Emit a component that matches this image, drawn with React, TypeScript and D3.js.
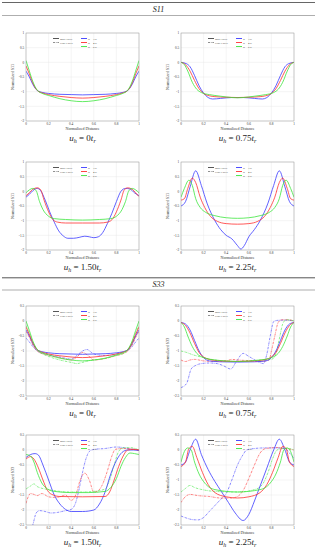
import * as d3 from "d3";

type Pt = [number, number];

const X_TICKS = [0, 0.2, 0.4, 0.6, 0.8, 1];
const S11_Y_TICKS = [1, 0.5, 0, -0.5, -1, -1.5, -2];
const S33_Y_TICKS = [0.5, 0, -0.5, -1, -1.5, -2, -2.5];
const UH_VALUES = ["0", "0.75", "1.50", "2.25"];
const RATIOS = ["3.6", "4.6", "5.6"];

const BLUE = "#3a3aff";
const RED = "#ff3030";
const GREEN = "#3ee63e";

// ---- S11, u_h = 0
const s11u0Blue: Pt[] = [[0,-0.3],[0.03,-0.5],[0.06,-0.75],[0.1,-0.96],[0.15,-1.03],[0.2,-1.06],[0.3,-1.09],[0.4,-1.1],[0.5,-1.11],[0.6,-1.1],[0.7,-1.09],[0.8,-1.06],[0.85,-1.03],[0.9,-0.96],[0.94,-0.75],[0.97,-0.5],[1,-0.3]];
const s11u0Red: Pt[] = [[0,-0.12],[0.03,-0.4],[0.06,-0.7],[0.1,-0.96],[0.15,-1.05],[0.2,-1.1],[0.3,-1.16],[0.4,-1.2],[0.5,-1.22],[0.6,-1.2],[0.7,-1.16],[0.8,-1.1],[0.85,-1.05],[0.9,-0.96],[0.94,-0.7],[0.97,-0.4],[1,-0.12]];
const s11u0Green: Pt[] = [[0,0.06],[0.03,-0.3],[0.06,-0.65],[0.1,-0.95],[0.15,-1.07],[0.2,-1.13],[0.3,-1.24],[0.4,-1.31],[0.5,-1.34],[0.6,-1.31],[0.7,-1.24],[0.8,-1.13],[0.85,-1.07],[0.9,-0.95],[0.94,-0.65],[0.97,-0.3],[1,0.06]];

// ---- S11, u_h = 0.75
const s11u075Blue: Pt[] = [[0,0],[0.05,-0.05],[0.08,-0.15],[0.12,-0.45],[0.16,-0.8],[0.2,-1.05],[0.24,-1.2],[0.28,-1.25],[0.35,-1.23],[0.45,-1.2],[0.55,-1.2],[0.65,-1.23],[0.72,-1.25],[0.76,-1.2],[0.8,-1.05],[0.84,-0.8],[0.88,-0.45],[0.92,-0.15],[0.95,-0.05],[1,0]];
const s11u075Red: Pt[] = [[0,0],[0.04,-0.08],[0.08,-0.3],[0.12,-0.62],[0.16,-0.9],[0.2,-1.06],[0.25,-1.14],[0.3,-1.17],[0.4,-1.19],[0.5,-1.2],[0.6,-1.19],[0.7,-1.17],[0.75,-1.14],[0.8,-1.06],[0.84,-0.9],[0.88,-0.62],[0.92,-0.3],[0.96,-0.08],[1,0]];
const s11u075Green: Pt[] = [[0,0],[0.03,-0.08],[0.06,-0.3],[0.1,-0.68],[0.14,-0.92],[0.18,-1.03],[0.25,-1.1],[0.3,-1.13],[0.4,-1.18],[0.5,-1.21],[0.6,-1.18],[0.7,-1.13],[0.75,-1.1],[0.82,-1.03],[0.86,-0.92],[0.9,-0.68],[0.94,-0.3],[0.97,-0.08],[1,0]];

// ---- S11, u_h = 1.50
const s11u150Blue: Pt[] = [[0,-0.2],[0.03,-0.1],[0.06,0.02],[0.1,0.1],[0.13,0.02],[0.17,-0.3],[0.21,-0.7],[0.25,-1.05],[0.29,-1.35],[0.33,-1.52],[0.37,-1.6],[0.42,-1.6],[0.47,-1.57],[0.52,-1.53],[0.56,-1.55],[0.6,-1.58],[0.64,-1.55],[0.68,-1.4],[0.72,-1.1],[0.76,-0.75],[0.8,-0.35],[0.84,0],[0.88,0.1],[0.92,0.08],[0.96,-0.05],[1,-0.15]];
const s11u150Red: Pt[] = [[0,-0.15],[0.03,-0.05],[0.06,0.07],[0.1,0.12],[0.13,0.05],[0.16,-0.3],[0.2,-0.7],[0.24,-0.97],[0.28,-1.05],[0.35,-1.08],[0.5,-1.08],[0.65,-1.08],[0.72,-1.05],[0.76,-0.97],[0.8,-0.7],[0.84,-0.3],[0.87,0.05],[0.9,0.12],[0.94,0.07],[0.97,-0.05],[1,-0.18]];
const s11u150Green: Pt[] = [[0,-0.05],[0.03,0.05],[0.06,0.1],[0.09,0.02],[0.12,-0.35],[0.15,-0.62],[0.2,-0.85],[0.25,-0.93],[0.35,-0.96],[0.5,-0.98],[0.65,-0.96],[0.75,-0.93],[0.8,-0.85],[0.85,-0.62],[0.88,-0.35],[0.91,0.02],[0.94,0.1],[0.97,0.05],[1,-0.05]];

// ---- S11, u_h = 2.25
const s11u225Blue: Pt[] = [[0,-0.5],[0.04,-0.35],[0.08,0.15],[0.13,0.7],[0.18,0.2],[0.23,-0.4],[0.3,-1.0],[0.35,-1.3],[0.4,-1.5],[0.45,-1.62],[0.5,-1.85],[0.53,-1.97],[0.56,-1.85],[0.6,-1.55],[0.65,-1.3],[0.7,-1.0],[0.77,-0.4],[0.82,0.2],[0.87,0.7],[0.92,0.15],[0.96,-0.35],[1,-0.5]];
const s11u225Red: Pt[] = [[0,-0.3],[0.03,-0.25],[0.06,0.1],[0.1,0.45],[0.13,0.3],[0.17,-0.2],[0.21,-0.55],[0.26,-0.85],[0.32,-1.02],[0.4,-1.1],[0.5,-1.12],[0.6,-1.1],[0.68,-1.02],[0.74,-0.85],[0.79,-0.55],[0.83,-0.2],[0.87,0.3],[0.9,0.45],[0.94,0.1],[0.97,-0.25],[1,-0.3]];
const s11u225Green: Pt[] = [[0,-0.2],[0.03,0.1],[0.07,0.38],[0.1,0.2],[0.13,-0.25],[0.17,-0.55],[0.22,-0.72],[0.3,-0.83],[0.4,-0.9],[0.5,-0.92],[0.6,-0.9],[0.7,-0.83],[0.78,-0.72],[0.83,-0.55],[0.87,-0.25],[0.9,0.2],[0.93,0.38],[0.97,0.1],[1,-0.2]];

// ---- S33, u_h = 0
const s33u0Blue: Pt[] = [[0,-0.3],[0.03,-0.5],[0.06,-0.75],[0.1,-0.96],[0.15,-1.03],[0.2,-1.06],[0.3,-1.09],[0.4,-1.1],[0.5,-1.11],[0.6,-1.1],[0.7,-1.09],[0.8,-1.06],[0.85,-1.03],[0.9,-0.96],[0.94,-0.75],[0.97,-0.5],[1,-0.3]];
const s33u0BlueFirst: Pt[] = [[0,-0.57],[0.03,-0.7],[0.06,-0.85],[0.1,-1.0],[0.15,-1.07],[0.2,-1.12],[0.3,-1.2],[0.4,-1.27],[0.45,-1.15],[0.5,-1.0],[0.54,-0.95],[0.58,-1.05],[0.62,-1.12],[0.7,-1.15],[0.8,-1.1],[0.85,-1.05],[0.9,-0.98],[0.94,-0.85],[0.97,-0.7],[1,-0.57]];
const s33u0Red: Pt[] = [[0,-0.2],[0.03,-0.45],[0.06,-0.72],[0.1,-0.96],[0.15,-1.05],[0.2,-1.1],[0.3,-1.16],[0.4,-1.2],[0.5,-1.22],[0.6,-1.2],[0.7,-1.16],[0.8,-1.1],[0.85,-1.05],[0.9,-0.96],[0.94,-0.72],[0.97,-0.45],[1,-0.2]];
const s33u0RedFirst: Pt[] = [[0,-0.35],[0.03,-0.55],[0.06,-0.8],[0.1,-1.0],[0.15,-1.1],[0.2,-1.15],[0.3,-1.22],[0.4,-1.3],[0.45,-1.2],[0.5,-1.05],[0.55,-1.15],[0.6,-1.3],[0.7,-1.25],[0.8,-1.15],[0.85,-1.1],[0.9,-1.0],[0.94,-0.8],[0.97,-0.55],[1,-0.35]];
const s33u0Green: Pt[] = [[0,0],[0.03,-0.32],[0.06,-0.66],[0.1,-0.95],[0.15,-1.07],[0.2,-1.13],[0.3,-1.24],[0.4,-1.3],[0.5,-1.33],[0.6,-1.3],[0.7,-1.24],[0.8,-1.13],[0.85,-1.07],[0.9,-0.95],[0.94,-0.66],[0.97,-0.32],[1,0]];
const s33u0GreenFirst: Pt[] = [[0,-0.15],[0.03,-0.42],[0.06,-0.72],[0.1,-0.98],[0.15,-1.1],[0.2,-1.18],[0.3,-1.3],[0.4,-1.38],[0.45,-1.42],[0.5,-1.38],[0.55,-1.33],[0.6,-1.3],[0.7,-1.25],[0.8,-1.15],[0.85,-1.1],[0.9,-0.98],[0.94,-0.72],[0.97,-0.42],[1,-0.15]];

// ---- S33, u_h = 0.75
const s33u075Blue: Pt[] = [[0,-0.05],[0.04,-0.1],[0.08,-0.3],[0.12,-0.65],[0.16,-1.0],[0.2,-1.22],[0.25,-1.33],[0.35,-1.36],[0.5,-1.37],[0.65,-1.36],[0.75,-1.33],[0.8,-1.22],[0.84,-1.0],[0.88,-0.65],[0.92,-0.3],[0.96,-0.1],[1,-0.05]];
const s33u075BlueFirst: Pt[] = [[0,-2.22],[0.05,-2.08],[0.09,-1.6],[0.13,-1.48],[0.18,-1.42],[0.25,-1.4],[0.32,-1.42],[0.38,-1.5],[0.44,-1.6],[0.49,-1.35],[0.55,-1.08],[0.6,-1.18],[0.67,-1.33],[0.73,-1.42],[0.76,-1.1],[0.79,-0.5],[0.82,-0.02],[0.85,0.02],[0.92,0.03],[1,0]];
const s33u075Red: Pt[] = [[0,-0.05],[0.04,-0.15],[0.08,-0.4],[0.12,-0.75],[0.16,-1.05],[0.2,-1.2],[0.25,-1.28],[0.35,-1.33],[0.5,-1.35],[0.65,-1.33],[0.75,-1.28],[0.8,-1.2],[0.84,-1.05],[0.88,-0.75],[0.92,-0.4],[0.96,-0.15],[1,-0.05]];
const s33u075RedFirst: Pt[] = [[0,-1.3],[0.04,-1.35],[0.08,-1.3],[0.12,-1.28],[0.2,-1.33],[0.3,-1.35],[0.4,-1.33],[0.45,-1.28],[0.5,-1.3],[0.6,-1.32],[0.7,-1.35],[0.78,-1.3],[0.8,-1.0],[0.83,-0.5],[0.86,-0.05],[0.89,0.04],[0.95,0.04],[1,0]];
const s33u075Green: Pt[] = [[0,-0.05],[0.03,-0.2],[0.06,-0.5],[0.1,-0.85],[0.14,-1.08],[0.2,-1.22],[0.3,-1.3],[0.5,-1.35],[0.7,-1.3],[0.8,-1.22],[0.86,-1.08],[0.9,-0.85],[0.94,-0.5],[0.97,-0.2],[1,-0.05]];
const s33u075GreenFirst: Pt[] = [[0,-1.0],[0.05,-1.05],[0.1,-1.12],[0.2,-1.22],[0.3,-1.3],[0.4,-1.33],[0.5,-1.35],[0.6,-1.33],[0.7,-1.3],[0.8,-1.28],[0.84,-1.1],[0.87,-0.6],[0.9,-0.1],[0.93,0.04],[0.97,0.03],[1,0]];

// ---- S33, u_h = 1.50
const s33u150Blue: Pt[] = [[0,-0.25],[0.04,-0.15],[0.08,-0.12],[0.11,-0.17],[0.15,-0.5],[0.2,-1.0],[0.25,-1.5],[0.3,-1.8],[0.35,-1.98],[0.4,-2.05],[0.5,-2.05],[0.6,-2.0],[0.65,-1.8],[0.7,-1.4],[0.75,-0.8],[0.8,-0.35],[0.85,-0.08],[0.9,0],[0.95,0],[1,-0.02]];
const s33u150BlueFirst: Pt[] = [[0,-2.9],[0.06,-2.5],[0.09,-2.1],[0.12,-2.02],[0.17,-2.05],[0.22,-2.1],[0.28,-2.08],[0.34,-2.03],[0.4,-1.98],[0.44,-1.75],[0.47,-1.3],[0.5,-0.75],[0.53,-0.3],[0.56,-0.05],[0.6,0.02],[0.7,0.05],[0.8,0.1],[0.86,0.08],[0.93,0.03],[1,0]];
const s33u150Red: Pt[] = [[0,-0.3],[0.04,-0.22],[0.07,-0.3],[0.11,-0.6],[0.15,-1.0],[0.19,-1.35],[0.24,-1.5],[0.3,-1.55],[0.5,-1.56],[0.7,-1.55],[0.74,-1.4],[0.78,-1.0],[0.82,-0.55],[0.86,-0.2],[0.9,0],[0.95,0.02],[1,0]];
const s33u150RedFirst: Pt[] = [[0,-1.78],[0.04,-1.45],[0.07,-1.48],[0.1,-1.52],[0.14,-1.45],[0.2,-1.56],[0.25,-1.58],[0.3,-1.56],[0.35,-1.5],[0.4,-1.68],[0.44,-1.5],[0.48,-1.0],[0.52,-0.77],[0.56,-1.0],[0.6,-1.4],[0.63,-1.38],[0.67,-1.2],[0.72,-0.7],[0.76,-0.2],[0.79,0.02],[0.85,0.05],[0.92,0.04],[1,0]];
const s33u150Green: Pt[] = [[0,-0.15],[0.04,-0.2],[0.07,-0.4],[0.1,-0.75],[0.14,-1.1],[0.19,-1.3],[0.25,-1.38],[0.4,-1.42],[0.55,-1.42],[0.7,-1.38],[0.75,-1.25],[0.8,-0.95],[0.84,-0.55],[0.88,-0.25],[0.92,-0.1],[0.96,-0.12],[1,-0.15]];
const s33u150GreenFirst: Pt[] = [[0,-1.3],[0.04,-1.2],[0.07,-1.13],[0.1,-1.22],[0.2,-1.32],[0.3,-1.38],[0.4,-1.4],[0.5,-1.4],[0.6,-1.38],[0.7,-1.3],[0.74,-1.0],[0.78,-0.5],[0.82,-0.05],[0.86,0.07],[0.92,0.08],[1,0]];

// ---- S33, u_h = 2.25
const s33u225Blue: Pt[] = [[0,-0.5],[0.04,-0.4],[0.08,0],[0.13,0.36],[0.18,-0.15],[0.24,-0.65],[0.3,-1.05],[0.36,-1.4],[0.42,-1.75],[0.48,-2.1],[0.55,-2.35],[0.6,-2.15],[0.65,-1.7],[0.7,-1.2],[0.76,-0.6],[0.82,0],[0.87,0.36],[0.92,0],[0.96,-0.4],[1,-0.5]];
const s33u225BlueFirst: Pt[] = [[0,-2.2],[0.05,-2.27],[0.1,-2.32],[0.15,-2.33],[0.2,-2.25],[0.25,-2.05],[0.3,-1.85],[0.35,-1.65],[0.4,-1.45],[0.45,-1.0],[0.5,-0.5],[0.55,-0.15],[0.58,0],[0.65,0.05],[0.75,0.07],[0.85,0.07],[0.92,0.05],[0.96,-0.1],[1,-0.28]];
const s33u225Red: Pt[] = [[0,-0.55],[0.04,-0.4],[0.07,0.05],[0.1,0.12],[0.14,-0.25],[0.19,-0.75],[0.24,-1.15],[0.3,-1.42],[0.4,-1.56],[0.5,-1.6],[0.6,-1.56],[0.7,-1.42],[0.76,-1.15],[0.81,-0.75],[0.86,-0.25],[0.9,0.12],[0.93,0.05],[0.96,-0.4],[1,-0.55]];
const s33u225RedFirst: Pt[] = [[0,-1.75],[0.04,-1.55],[0.08,-1.48],[0.15,-1.52],[0.25,-1.55],[0.35,-1.6],[0.45,-1.6],[0.5,-1.55],[0.55,-1.35],[0.6,-0.95],[0.65,-0.5],[0.7,-0.1],[0.75,0.05],[0.85,0.08],[0.93,0.05],[1,0]];
const s33u225Green: Pt[] = [[0,-0.4],[0.03,-0.05],[0.06,0.07],[0.09,0],[0.12,-0.4],[0.16,-0.8],[0.21,-1.1],[0.3,-1.32],[0.5,-1.4],[0.7,-1.32],[0.79,-1.1],[0.84,-0.8],[0.88,-0.4],[0.91,0],[0.94,0.07],[0.97,-0.05],[1,-0.4]];
const s33u225GreenFirst: Pt[] = [[0,-1.4],[0.04,-1.28],[0.08,-1.18],[0.12,-1.25],[0.2,-1.33],[0.3,-1.38],[0.5,-1.4],[0.65,-1.32],[0.72,-1.15],[0.77,-0.75],[0.81,-0.3],[0.85,0],[0.9,0.05],[0.95,0.05],[1,0]];

type Series = { pts: Pt[]; color: string; first?: boolean };

const COLS = [26, 181];
const PW = 113;
const ROW_TOPS = [33, 162, 306, 435];
const ROW_H = [88, 88, 90, 90];

const SERIF = "'Liberation Serif', 'DejaVu Serif', serif";
const DASH = "2.2,0.8,0.6,0.8";

const panels: { row: number; col: number; uh: string; series: Series[] }[] = [
  { row: 0, col: 0, uh: UH_VALUES[0], series: [
    { pts: s11u0Blue, color: BLUE }, { pts: s11u0Red, color: RED }, { pts: s11u0Green, color: GREEN }] },
  { row: 0, col: 1, uh: UH_VALUES[1], series: [
    { pts: s11u075Blue, color: BLUE }, { pts: s11u075Red, color: RED }, { pts: s11u075Green, color: GREEN }] },
  { row: 1, col: 0, uh: UH_VALUES[2], series: [
    { pts: s11u150Blue, color: BLUE }, { pts: s11u150Red, color: RED }, { pts: s11u150Green, color: GREEN }] },
  { row: 1, col: 1, uh: UH_VALUES[3], series: [
    { pts: s11u225Blue, color: BLUE }, { pts: s11u225Red, color: RED }, { pts: s11u225Green, color: GREEN }] },
  { row: 2, col: 0, uh: UH_VALUES[0], series: [
    { pts: s33u0BlueFirst, color: BLUE, first: true }, { pts: s33u0RedFirst, color: RED, first: true }, { pts: s33u0GreenFirst, color: GREEN, first: true },
    { pts: s33u0Blue, color: BLUE }, { pts: s33u0Red, color: RED }, { pts: s33u0Green, color: GREEN }] },
  { row: 2, col: 1, uh: UH_VALUES[1], series: [
    { pts: s33u075BlueFirst, color: BLUE, first: true }, { pts: s33u075RedFirst, color: RED, first: true }, { pts: s33u075GreenFirst, color: GREEN, first: true },
    { pts: s33u075Blue, color: BLUE }, { pts: s33u075Red, color: RED }, { pts: s33u075Green, color: GREEN }] },
  { row: 3, col: 0, uh: UH_VALUES[2], series: [
    { pts: s33u150BlueFirst, color: BLUE, first: true }, { pts: s33u150RedFirst, color: RED, first: true }, { pts: s33u150GreenFirst, color: GREEN, first: true },
    { pts: s33u150Blue, color: BLUE }, { pts: s33u150Red, color: RED }, { pts: s33u150Green, color: GREEN }] },
  { row: 3, col: 1, uh: UH_VALUES[3], series: [
    { pts: s33u225BlueFirst, color: BLUE, first: true }, { pts: s33u225RedFirst, color: RED, first: true }, { pts: s33u225GreenFirst, color: GREEN, first: true },
    { pts: s33u225Blue, color: BLUE }, { pts: s33u225Red, color: RED }, { pts: s33u225Green, color: GREEN }] },
];

function Panel({ row, col, uh, series }: { row: number; col: number; uh: string; series: Series[] }) {
  const left = COLS[col];
  const top = ROW_TOPS[row];
  const h = ROW_H[row];
  const isS11 = row < 2;
  const yTicks = isS11 ? S11_Y_TICKS : S33_Y_TICKS;
  const yDomain = d3.extent(yTicks) as [number, number];
  const x = d3.scaleLinear().domain([0, 1]).range([left, left + PW]);
  const y = d3.scaleLinear().domain(yDomain).range([top + h, top]);
  const line = d3.line<Pt>().x((d) => x(d[0])).y((d) => y(d[1])).curve(d3.curveMonotoneX);
  const clipId = `clip-${row}-${col}`;
  const bottom = top + h;
  const cx = left + PW / 2;

  const legendRows = [5.5, 9.5, 13.5];
  return (
    <g>
      <defs>
        <clipPath id={clipId}>
          <rect x={left} y={top} width={PW} height={h} />
        </clipPath>
      </defs>
      <rect x={left} y={top} width={PW} height={h} fill="#fff" />
      {X_TICKS.map((t) => (
        <line key={"gx" + t} x1={x(t)} x2={x(t)} y1={top} y2={bottom} stroke="#e6e6e6" strokeWidth={0.4} />
      ))}
      {yTicks.map((t) => (
        <line key={"gy" + t} x1={left} x2={left + PW} y1={y(t)} y2={y(t)} stroke="#e6e6e6" strokeWidth={0.4} />
      ))}
      <g clipPath={`url(#${clipId})`}>
        {series.map((s, i) => (
          <path key={i} d={line(s.pts) ?? ""} fill="none" stroke={s.color}
            strokeWidth={s.first ? 0.6 : 0.8} strokeDasharray={s.first ? DASH : undefined} />
        ))}
      </g>
      <rect x={left} y={top} width={PW} height={h} fill="none" stroke="#9a9a9a" strokeWidth={0.5} />
      {X_TICKS.map((t) => (
        <text key={"tx" + t} x={x(t)} y={bottom + 4.3} fontSize={3.4} textAnchor="middle" fill="#333" fontFamily={SERIF}>{String(t)}</text>
      ))}
      {yTicks.map((t) => (
        <text key={"ty" + t} x={left - 1.8} y={y(t) + 1.2} fontSize={3.4} textAnchor="end" fill="#333" fontFamily={SERIF}>{String(t)}</text>
      ))}
      <text x={cx} y={bottom + 9.3} fontSize={4} textAnchor="middle" fill="#333" fontFamily={SERIF}>Normalized Distance</text>
      <text transform={`translate(${left - 12.5},${top + h / 2}) rotate(-90)`} fontSize={4} textAnchor="middle" fill="#333" fontFamily={SERIF}>
        {isS11 ? "Normalized S11" : "Normalized S33"}
      </text>
      {/* legend */}
      <g fontFamily={SERIF} fontSize={2.9} fill="#333">
        <line x1={left + 27} x2={left + 33} y1={top + legendRows[0]} y2={top + legendRows[0]} stroke="#444" strokeWidth={0.9} />
        <text x={left + 34} y={top + legendRows[0] + 1}>Mid Layer</text>
        <line x1={left + 27} x2={left + 33} y1={top + legendRows[1]} y2={top + legendRows[1]} stroke="#444" strokeWidth={0.6} strokeDasharray={DASH} />
        <text x={left + 34} y={top + legendRows[1] + 1}>First Layer</text>
        {[BLUE, RED, GREEN].map((c, i) => (
          <g key={c}>
            <line x1={left + 55} x2={left + 61} y1={top + legendRows[i]} y2={top + legendRows[i]} stroke={c} strokeWidth={0.9} />
            <text x={left + 62} y={top + legendRows[i] + 1}>{`R = ${RATIOS[i]}`}</text>
          </g>
        ))}
      </g>
      <text x={cx} y={bottom + 20} fontSize={9} textAnchor="middle" fill="#222" fontFamily={SERIF}>
        <tspan fontStyle="italic">u</tspan>
        <tspan fontStyle="italic" fontSize={6} dy={1.8}>h</tspan>
        <tspan dy={-1.8}>{` = ${uh}`}</tspan>
        <tspan fontStyle="italic">t</tspan>
        <tspan fontStyle="italic" fontSize={6} dy={1.8}>r</tspan>
      </text>
    </g>
  );
}

export default function App() {
  return (
    <svg width={317} height={550} viewBox="0 0 317 550" style={{ position: "absolute", left: 0, top: 0, background: "#fff" }}>
      <rect width={317} height={550} fill="#fff" />
      <line x1={2} x2={315} y1={2.5} y2={2.5} stroke="#555" strokeWidth={0.9} />
      <text x={158.5} y={12.3} fontSize={8} fontStyle="italic" textAnchor="middle" fill="#222" fontFamily={SERIF}>S11</text>
      <line x1={2} x2={315} y1={15.5} y2={15.5} stroke="#777" strokeWidth={0.6} />
      <line x1={2} x2={315} y1={277.8} y2={277.8} stroke="#555" strokeWidth={1} />
      <text x={158.5} y={286.5} fontSize={8} fontStyle="italic" textAnchor="middle" fill="#222" fontFamily={SERIF}>S33</text>
      <line x1={2} x2={315} y1={290} y2={290} stroke="#777" strokeWidth={0.6} />
      {panels.map((p) => (
        <Panel key={`${p.row}-${p.col}`} {...p} />
      ))}
    </svg>
  );
}
